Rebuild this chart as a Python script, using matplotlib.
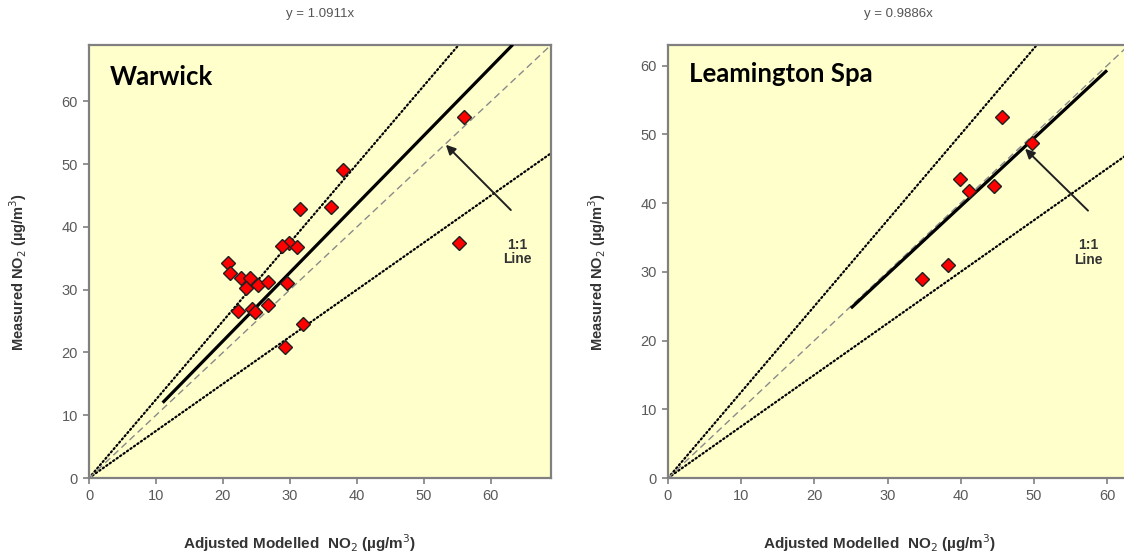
import matplotlib
matplotlib.use("Agg")
import matplotlib.pyplot as plt
import numpy as np

# ---- data ----
warwick_x = [56.0, 55.2, 37.9, 36.1, 31.5, 29.9, 28.8, 31.1, 20.7, 21.1, 22.7, 24.1,
             23.5, 25.3, 26.7, 29.6, 22.2, 24.3, 24.8, 26.8, 32.0, 29.2]
warwick_y = [57.6, 37.4, 49.1, 43.2, 42.9, 37.4, 36.9, 36.8, 34.3, 32.6, 31.9, 31.9,
             30.2, 30.7, 31.2, 31.1, 26.6, 26.9, 26.4, 27.6, 24.5, 20.9]
leam_x = [45.7, 49.8, 39.9, 41.1, 44.5, 38.3, 34.7]
leam_y = [52.5, 48.8, 43.5, 41.8, 42.5, 31.0, 28.9]

warwick_slope = 1.0911
leam_slope = 0.9886
warwick_fit_range = [11.0, 63.3]
leam_fit_range = [25.0, 60.0]
band = [0.75, 1.25]
ticks = [0, 10, 20, 30, 40, 50, 60]

plt.rcParams['font.family'] = ['Liberation Sans', 'DejaVu Sans']

panels = [
    dict(name="Warwick", x=warwick_x, y=warwick_y, slope=warwick_slope,
         fit=warwick_fit_range, lim=69, title="y = 1.0911x",
         arrow_tail=(63.0, 42.7), arrow_tip=(53.3, 53.1), label_xy=(64.0, 36.0),
         pos=[89/1124, 1-478/556, 462/1124, 433/556], xl=300, name_y=0.925),
    dict(name="Leamington Spa", x=leam_x, y=leam_y, slope=leam_slope,
         fit=leam_fit_range, lim=63, title="y = 0.9886x",
         arrow_tail=(57.4, 38.9), arrow_tip=(48.8, 47.9), label_xy=(57.4, 32.8),
         pos=[668/1124, 1-478/556, 461/1124, 433/556], xl=880, name_y=0.933),
]

fig = plt.figure(figsize=(11.24, 5.56), dpi=100)
fig.patch.set_facecolor("white")

gray = "#808080"
for p in panels:
    ax = fig.add_axes(p["pos"])
    ax.set_facecolor("#FFFFCC")
    lim = p["lim"]
    ax.set_xlim(0, lim)
    ax.set_ylim(0, lim)
    xs = np.array([0, lim])
    # +-25% bands
    ax.plot(xs, band[0] * xs, color="black", lw=1.6, linestyle=(0, (0.6, 1.3)),
            dash_capstyle="round", zorder=2)
    ax.plot(xs, band[1] * xs, color="black", lw=1.6, linestyle=(0, (0.6, 1.3)),
            dash_capstyle="round", zorder=2)
    # 1:1 line
    ax.plot(xs, xs, color="#8a8a8a", lw=1.0, linestyle=(0, (5, 3)), zorder=2)
    # fit line
    fx = np.array(p["fit"])
    ax.plot(fx, p["slope"] * fx, color="black", lw=2.3, zorder=3,
            solid_capstyle="butt")
    # points
    ax.plot(p["x"], p["y"], linestyle="none", marker="D", markersize=7.2,
            markerfacecolor="#FF0000", markeredgecolor="#202020",
            markeredgewidth=1.0, zorder=4)
    # arrow
    ax.annotate("", xy=p["arrow_tip"], xytext=p["arrow_tail"],
                arrowprops=dict(arrowstyle="-|>", color="#202020", lw=1.4,
                                mutation_scale=14, shrinkA=0, shrinkB=0),
                zorder=5)
    ax.text(p["label_xy"][0], p["label_xy"][1], "1:1\nLine", ha="center",
            va="center", fontsize=10, fontweight="bold", color="#333333",
            linespacing=1.05)
    ax.text(0.045, p["name_y"], p["name"], transform=ax.transAxes, ha="left",
            va="center", fontsize=18.5, fontweight="bold",
            family=["Lato", "DejaVu Sans"])
    ax.set_xticks(ticks)
    ax.set_yticks(ticks)
    ax.tick_params(colors=gray, labelcolor="#5a5a5a", labelsize=10.5, length=4,
                   width=1.2, direction="out", pad=4)
    for s in ax.spines.values():
        s.set_color(gray)
        s.set_linewidth(1.6)
    ax.set_title(p["title"], fontsize=9.5, color="#555555", pad=20)
    # labels
    fig.text(p["xl"] / 1124, 1 - 543 / 556, "Adjusted Modelled  NO$_2$ (µg/m$^3$)",
             ha="center", va="center", fontsize=11, fontweight="bold", color="#333333")
    ylx = (p["pos"][0] * 1124 - 71) / 1124
    fig.text(ylx, 1 - 272 / 556, "Measured NO$_2$ (µg/m$^3$)", rotation=90,
             ha="center", va="center", fontsize=10.5, fontweight="bold", color="#333333")

fig.savefig("out.png", dpi=100)
